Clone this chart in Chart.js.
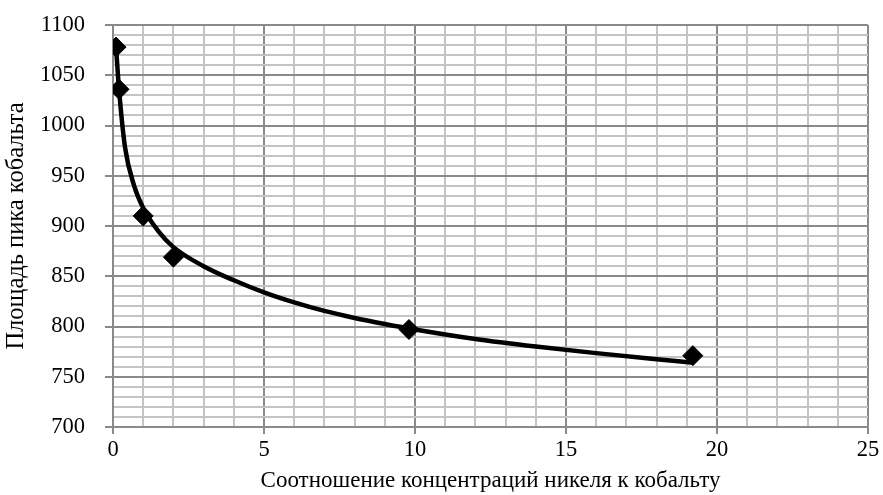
<!DOCTYPE html>
<html>
<head>
<meta charset="utf-8">
<script src="https://cdn.jsdelivr.net/npm/chart.js@4"></script>
<style>
  html, body { margin: 0; padding: 0; background: #fff; }
  #wrap { width: 883px; height: 495px; }
</style>
</head>
<body>
<div id="wrap"><canvas id="chart" width="883" height="495"></canvas></div>
<script>
// measured points (ratio Ni/Co vs Co peak area)
const ratioX = [0.1, 0.2, 1, 2, 9.8, 19.2];
const peakArea = [1078, 1036, 910, 869, 797, 771];

// trend curve
const curveX = [0.1, 0.2, 0.4, 0.7, 1, 1.5, 2, 3, 4, 5, 6, 7, 8, 9, 10, 12, 14, 16, 18, 19.2];
const curveY = [1078, 1036, 978, 940, 918, 895, 879, 860, 846, 834, 824, 815.5, 808.5, 802.5, 797, 787.5, 780, 773.5, 767.5, 764];

const xTitle = 'Соотношение концентраций никеля к кобальту';
const yTitle = 'Площадь пика кобальта';

const serif = '"Liberation Serif", "Times New Roman", serif';
const font = { family: serif, size: 22.5 };
const xTitleFont = { family: serif, size: 23 };
const yTitleFont = { family: serif, size: 24.5 };
const majorGrid = '#8a8a8a';
const minorGrid = '#c4c4c4';

const ctx = document.getElementById('chart').getContext('2d');

new Chart(ctx, {
  type: 'scatter',
  data: {
    datasets: [
      {
        label: 'points',
        data: ratioX.map((x, i) => ({ x: x, y: peakArea[i] })),
        pointStyle: 'rectRot',
        pointRadius: 10,
        backgroundColor: '#000',
        borderColor: '#000',
        showLine: false,
        order: 0
      },
      {
        label: 'trend',
        data: curveX.map((x, i) => ({ x: x, y: curveY[i] })),
        showLine: true,
        borderColor: '#000',
        borderWidth: 4.5,
        pointRadius: 0,
        cubicInterpolationMode: 'monotone',
        order: 1
      }
    ]
  },
  options: {
    responsive: false,
    animation: false,
    layout: { padding: { top: 25, right: 15, left: 0, bottom: 0 } },
    plugins: { legend: { display: false }, tooltip: { enabled: false } },
    scales: {
      x: {
        type: 'linear',
        min: 0,
        max: 25,
        afterFit: (s) => { s.height = 68; },
        ticks: {
          stepSize: 1,
          autoSkip: false,
          maxRotation: 0,
          padding: 3,
          color: '#000',
          font: font,
          callback: (v) => (v % 5 === 0 ? v : '')
        },
        grid: {
          lineWidth: 2,
          color: (c) => (c.tick && c.tick.value % 5 === 0 ? majorGrid : minorGrid),
          tickLength: 7,
          tickColor: (c) => (c.tick && c.tick.value % 5 === 0 ? majorGrid : 'rgba(0,0,0,0)')
        },
        border: { color: majorGrid, width: 2 },
        title: { display: true, text: xTitle, color: '#000', font: xTitleFont, padding: 0 }
      },
      y: {
        min: 700,
        max: 1100,
        // fixed width, and don't let the label padding push the plot area down
        afterFit: (s) => { s.width = 113; s.paddingTop = 0; s.paddingBottom = 0; },
        ticks: {
          stepSize: 10,
          autoSkip: false,
          padding: 20,
          color: '#000',
          font: font,
          callback: (v) => (v % 50 === 0 ? v : '')
        },
        grid: {
          lineWidth: 2,
          color: (c) => (c.tick && c.tick.value % 50 === 0 ? majorGrid : minorGrid),
          tickLength: 8,
          tickColor: (c) => (c.tick && c.tick.value % 50 === 0 ? majorGrid : 'rgba(0,0,0,0)')
        },
        border: { color: majorGrid, width: 2 },
        title: { display: true, text: yTitle, color: '#000', font: yTitleFont, padding: 2 }
      }
    }
  }
});
</script>
</body>
</html>
